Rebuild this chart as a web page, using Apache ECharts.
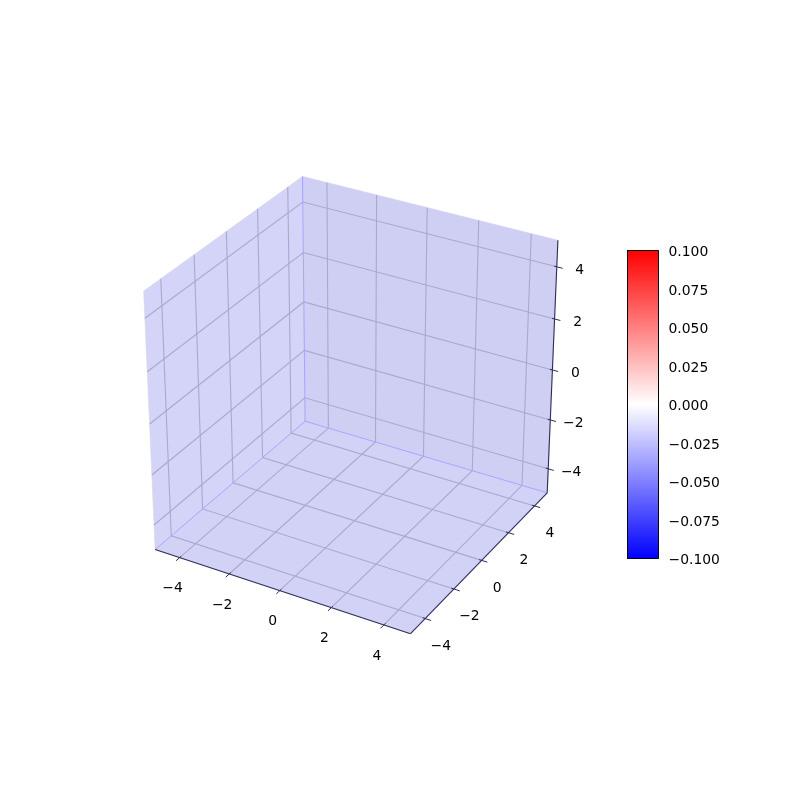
<!DOCTYPE html>
<html><head><meta charset="utf-8">
<script src="https://cdn.jsdelivr.net/npm/echarts@6/dist/echarts.min.js"></script>
<style>html,body{margin:0;padding:0;background:#fff}#main{width:800px;height:800px}</style>
</head><body><div id="main"></div>
<script>
// ---- data ----
const xTicks = [-4, -2, 0, 2, 4];
const yTicks = [-4, -2, 0, 2, 4];
const zTicks = [-4, -2, 0, 2, 4];
const paneMin = -5, paneMax = 5;
const cbMin = -0.1, cbMax = 0.1, cbStep = 0.025;
const cbTicks = [-0.1, -0.075, -0.05, -0.025, 0, 0.025, 0.05, 0.075, 0.1];
const cbColors = ['#ff0000', '#ffffff', '#0000ff']; // top -> bottom (bwr)

// ---- view (matplotlib-like perspective) ----
const ELEV = 30, AZIM = -60, DIST = 10, HALF = 0.55;
const CX = 354.5, CY = 396.5, SCALE = 2680;
const er = ELEV * Math.PI / 180, ar = AZIM * Math.PI / 180;
const W = [Math.cos(er) * Math.cos(ar), Math.cos(er) * Math.sin(ar), Math.sin(er)];
let U = [-W[1], W[0], 0];
const un = Math.hypot(U[0], U[1], U[2]); U = U.map(c => c / un);
const V = [W[1] * U[2] - W[2] * U[1], W[2] * U[0] - W[0] * U[2], W[0] * U[1] - W[1] * U[0]];
const dot = (a, b) => a[0] * b[0] + a[1] * b[1] + a[2] * b[2];
function project(x, y, z) {
  const mid = (paneMin + paneMax) / 2, hr = (paneMax - paneMin) / 2;
  const q = [x, y, z].map(c => (c - mid) / hr * HALF);
  const d = DIST - dot(W, q);
  return [dot(U, q) / d, dot(V, q) / d];
}
const MINUS = '\u2212';
const fmt = (v, n) => { if (Math.abs(v) < 1e-12) v = 0; return v.toFixed(n).replace('-', MINUS); };

const FONT = '13.9px "DejaVu Sans"';
const AXIS_COLOR = '#2e2e5c';
const GRID_COLOR = '#a9a9cc';
const EDGE_COLOR = '#a6a6ff';
const PANE_X = '#d4d4f8', PANE_Y = '#cfcff3', PANE_Z = '#d2d2f6';

function renderBox(params, api) {
  const P = (x, y, z) => api.coord(project(x, y, z));
  const lo = paneMin, hi = paneMax;
  const ch = [];
  const face = (pts, color) => ch.push({ type: 'polygon', shape: { points: pts.map(p => P(...p)) },
    style: { fill: color, stroke: color, lineWidth: 0.6 } });
  face([[lo, lo, lo], [lo, hi, lo], [lo, hi, hi], [lo, lo, hi]], PANE_X);
  face([[lo, hi, lo], [hi, hi, lo], [hi, hi, hi], [lo, hi, hi]], PANE_Y);
  face([[lo, lo, lo], [hi, lo, lo], [hi, hi, lo], [lo, hi, lo]], PANE_Z);
  const line = (pts, color, w) => ch.push({ type: 'polyline', shape: { points: pts.map(p => P(...p)) },
    style: { stroke: color, lineWidth: w, fill: null } });
  // grid lines
  xTicks.forEach(t => line([[t, lo, lo], [t, hi, lo], [t, hi, hi]], GRID_COLOR, 1.1));
  yTicks.forEach(t => line([[hi, t, lo], [lo, t, lo], [lo, t, hi]], GRID_COLOR, 1.1));
  zTicks.forEach(t => line([[lo, lo, t], [lo, hi, t], [hi, hi, t]], GRID_COLOR, 1.1));
  // back edges
  line([[lo, lo, lo], [lo, hi, lo], [hi, hi, lo]], EDGE_COLOR, 1);
  line([[lo, hi, lo], [lo, hi, hi]], EDGE_COLOR, 1);
  // axis lines
  line([[lo, lo, lo], [hi, lo, lo]], AXIS_COLOR, 1.1);
  line([[hi, lo, lo], [hi, hi, lo]], AXIS_COLOR, 1.1);
  line([[hi, hi, lo], [hi, hi, hi]], AXIS_COLOR, 1.1);
  const label = (pt, dx, dy, text) => ch.push({ type: 'text', x: pt[0] + dx, y: pt[1] + dy,
    style: { text, fill: '#000', font: FONT, align: 'center', verticalAlign: 'middle' } });
  // ticks and labels
  xTicks.forEach(t => {
    line([[t, lo + 0.1, lo], [t, lo - 0.22, lo]], AXIS_COLOR, 1);
    label(P(t, lo, lo), -7, 31, fmt(t, 0));
  });
  yTicks.forEach(t => {
    line([[hi - 0.1, t, lo], [hi + 0.22, t, lo]], AXIS_COLOR, 1);
    label(P(hi, t, lo), 15.5, 27.5, fmt(t, 0));
  });
  zTicks.forEach(t => {
    line([[hi - 0.1, hi, t], [hi + 0.22, hi, t]], AXIS_COLOR, 1);
    label(P(hi, hi, t), 23, 3.5, fmt(t, 0));
  });
  return { type: 'group', children: ch };
}

function renderColorbar(params, api) {
  const p0 = api.coord([0, cbMax]), p1 = api.coord([1, cbMin]);
  const ch = [{ type: 'rect', shape: { x: p0[0], y: p0[1], width: p1[0] - p0[0], height: p1[1] - p0[1] },
    style: { fill: { type: 'linear', x: 0, y: 0, x2: 0, y2: 1,
      colorStops: cbColors.map((c, i) => ({ offset: i / (cbColors.length - 1), color: c })) },
      stroke: '#000', lineWidth: 1 } }];
  cbTicks.forEach(t => {
    const p = api.coord([1, t]);
    ch.push({ type: 'text', x: p[0] + 10, y: p[1] + 2,
      style: { text: fmt(t, 3), fill: '#000', font: FONT, align: 'left', verticalAlign: 'middle' } });
  });
  return { type: 'group', children: ch };
}

const chart = echarts.init(document.getElementById('main'), null, { renderer: 'canvas' });
chart.setOption({
  animation: false,
  backgroundColor: '#ffffff',
  grid: [
    { left: 0, top: 0, width: 800, height: 800 },
    { left: 627.5, top: 250.5, width: 31, height: 308 }
  ],
  xAxis: [
    { gridIndex: 0, type: 'value', min: -CX / SCALE, max: (800 - CX) / SCALE, show: false },
    { gridIndex: 1, type: 'value', min: 0, max: 1, show: false }
  ],
  yAxis: [
    { gridIndex: 0, type: 'value', min: (CY - 800) / SCALE, max: CY / SCALE, show: false },
    { gridIndex: 1, type: 'value', position: 'right', min: cbMin, max: cbMax, interval: cbStep,
      axisLine: { show: true, lineStyle: { color: '#000', width: 1 } },
      axisTick: { show: true, length: 5, lineStyle: { color: '#000', width: 1 } },
      splitLine: { show: false },
      axisLabel: { show: false } }
  ],
  series: [
    { type: 'custom', xAxisIndex: 0, yAxisIndex: 0, data: [[0, 0]], renderItem: renderBox, silent: true, clip: false },
    { type: 'custom', xAxisIndex: 1, yAxisIndex: 1, data: [[0, 0]], renderItem: renderColorbar, silent: true, clip: false, z: 1 }
  ]
});
</script></body></html>
